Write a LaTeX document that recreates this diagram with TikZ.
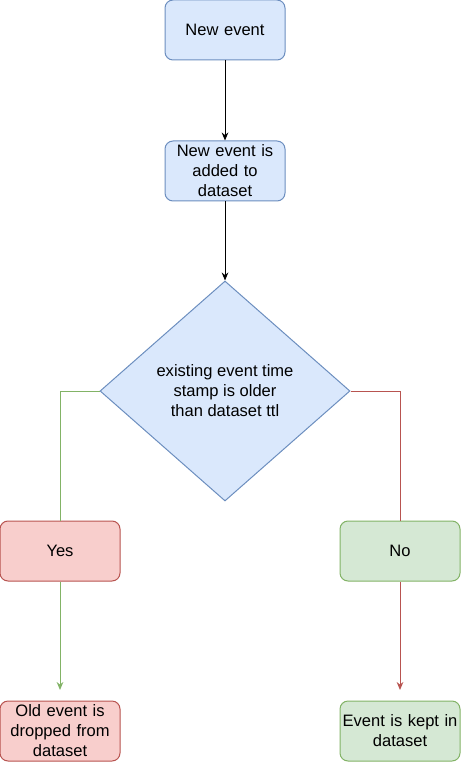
\documentclass[tikz,border=0pt]{standalone}
\usepackage{fontspec}
\setmainfont{Liberation Sans}
\usetikzlibrary{shapes.geometric,arrows.meta}
\definecolor{bluefill}{HTML}{DAE8FC}
\definecolor{blueline}{HTML}{6C8EBF}
\definecolor{redfill}{HTML}{F8CECC}
\definecolor{redline}{HTML}{B85450}
\definecolor{greenfill}{HTML}{D5E8D4}
\definecolor{greenline}{HTML}{82B366}

\begin{document}
\begin{tikzpicture}[x=0.75pt,y=-0.75pt,line width=0.75pt,
    font=\fontsize{12.4}{15}\selectfont]
\tikzstyle{box}=[rectangle,rounded corners=6pt,draw,inner sep=0pt,
    minimum width=90pt,minimum height=45pt,text width=88pt,align=center]
\tikzstyle{blue box}=[box,fill=bluefill,draw=blueline]
\tikzstyle{red box}=[box,fill=redfill,draw=redline]
\tikzstyle{green box}=[box,fill=greenfill,draw=greenline]
\tikzstyle{decision}=[diamond,draw=blueline,fill=bluefill,inner sep=0pt,
    minimum width=187.5pt,minimum height=165pt,align=center]
\tikzstyle{flow}=[-{Stealth[length=6pt,width=5pt]}]

\useasboundingbox (0,0) rectangle (461,762);

\node(new)[blue box] at (225,30) {New event};
\node(added)[blue box] at (225,171) {New event is\\added to\\dataset};
\node(check)[decision] at (225,391) {existing event time\\stamp is older\\than dataset ttl};
\node(yes)[red box] at (60,551) {Yes};
\node(no)[green box] at (400,551) {No};
\node(dropped)[red box] at (60,731) {Old event is\\dropped from\\dataset};
\node(kept)[green box] at (400,731) {Event is kept in\\dataset};

% arrow tips stop short of the last boxes
\coordinate(yesend) at (60,690);
\coordinate(noend) at (400,690);

% main line
\draw[flow] (new) -- (added);
\draw[flow] (added) -- (check);

% yes branch
\draw[greenline] (check.west) -| (yes.north);
\draw[flow,greenline] (yes.south) -- (yesend);

% no branch
\draw[redline] (check.east) -| (no.north);
\draw[flow,redline] (no.south) -- (noend);

\end{tikzpicture}
\end{document}
